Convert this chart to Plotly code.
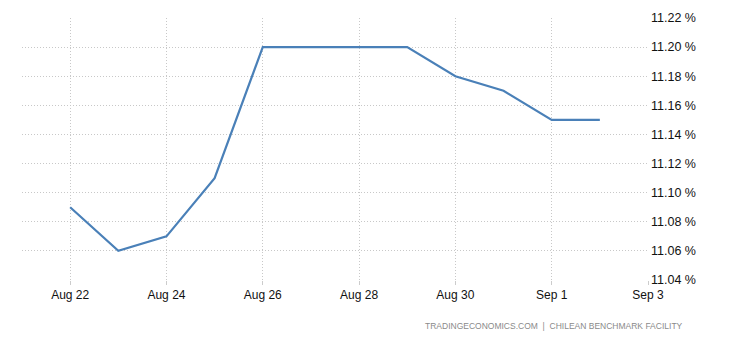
import plotly.graph_objects as go

dates = ["2017-08-22", "2017-08-23", "2017-08-24", "2017-08-25", "2017-08-26", "2017-08-27",
         "2017-08-28", "2017-08-29", "2017-08-30", "2017-08-31", "2017-09-01", "2017-09-02"]
values = [11.09, 11.06, 11.07, 11.11, 11.20, 11.20, 11.20, 11.20, 11.18, 11.17, 11.15, 11.15]

x_tickvals = ["2017-08-22", "2017-08-24", "2017-08-26", "2017-08-28", "2017-08-30", "2017-09-01", "2017-09-03"]
x_ticktext = ["Aug 22", "Aug 24", "Aug 26", "Aug 28", "Aug 30", "Sep 1", "Sep 3"]
y_tickvals = [11.04, 11.06, 11.08, 11.10, 11.12, 11.14, 11.16, 11.18, 11.20, 11.22]
y_ticktext = [f"{v:.2f} %" for v in y_tickvals]

fig = go.Figure()
fig.add_trace(go.Scatter(x=dates, y=values, mode="lines",
                         line=dict(color="#4a80b8", width=2.2)))

fig.update_layout(
    width=730, height=340,
    margin=dict(l=22, r=82, t=18, b=60),
    plot_bgcolor="white", paper_bgcolor="white",
    showlegend=False,
    font=dict(family="DejaVu Sans, Liberation Sans, sans-serif", size=12, color="#111"),
    xaxis=dict(range=["2017-08-21", "2017-09-03"], tickvals=x_tickvals, ticktext=x_ticktext,
               showgrid=True, gridcolor="#c8c8c8", griddash="1px,2px", gridwidth=1,
               zeroline=False, showline=False, ticks="outside", ticklen=4, tickcolor="#cccccc",
               tickfont=dict(family="Liberation Sans, Arial, sans-serif", size=12, color="#111")),
    yaxis=dict(range=[11.04, 11.22], tickvals=y_tickvals, ticktext=y_ticktext, side="right",
               showgrid=True, gridcolor="#c8c8c8", griddash="1px,2px", gridwidth=1,
               zeroline=False, showline=False, ticks="", ticklabelstandoff=2,
               tickfont=dict(family="Liberation Sans, Arial, sans-serif", size=12.5, color="#111")),
    annotations=[dict(text="TRADINGECONOMICS.COM  |  CHILEAN BENCHMARK FACILITY",
                      xref="paper", yref="paper", x=1.059, y=-0.175, xanchor="right", yanchor="middle",
                      showarrow=False,
                      font=dict(family="Liberation Sans, Arial, sans-serif", size=8.5, color="#8a8a8a"))],
)

fig.write_html("out.html")
